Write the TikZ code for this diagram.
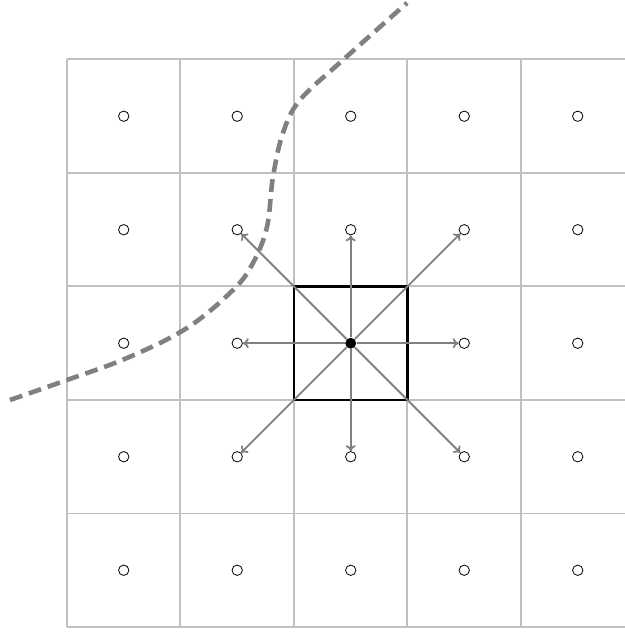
\documentclass[tikz,border=0pt]{standalone}
\usetikzlibrary{arrows.meta}
\definecolor{gridgrey}{HTML}{C0C0C0}
\definecolor{arrgrey}{HTML}{808080}
\begin{document}
\begin{tikzpicture}[
x=2cm,y=2cm,
cell/.style={draw=gridgrey,line width=1pt},
pt/.style={circle,draw=black,line width=0.4pt,inner sep=0pt,minimum size=5.2pt,fill=white},
dot/.style={circle,fill=black,inner sep=0pt,minimum size=5.5pt},
arr/.style={-{To[length=3pt,width=5pt]},draw=arrgrey,line width=0.9pt},
front/.style={draw=arrgrey,line width=2.3pt,dash pattern=on 6.5pt off 3.5pt}
]
\useasboundingbox (-0.59,-0.044) rectangle (4.916,5.524);
\draw[cell,step=2cm] (0,0) grid (5,5);
% the cell in the middle
\draw[line width=1.2pt] (2,2) rectangle (3,3);
% sample points
\foreach \i in {0,...,4}{
  \foreach \j in {0,...,4}{
    \ifnum\i=2 \ifnum\j=2 \else
      \node[pt] (p\i\j) at (\i+0.5,\j+0.5) {};
    \fi \else
      \node[pt] (p\i\j) at (\i+0.5,\j+0.5) {};
    \fi
  }
}
\node[dot] (ctr) at (2.5,2.5) {};
\foreach \n in {13,23,33,12,32,11,21,31}
  \draw[arr] (ctr) -- (p\n);
% boundary
\draw[front] plot[smooth,tension=0.6] coordinates {
  (-0.502,2.0) (0,2.176) (0.529,2.37) (1.057,2.634) (1.463,2.969)
  (1.639,3.207) (1.762,3.524) (1.815,3.965) (1.903,4.352)
  (2.053,4.643) (2.432,4.996) (2.996,5.498)};
\end{tikzpicture}
\end{document}
